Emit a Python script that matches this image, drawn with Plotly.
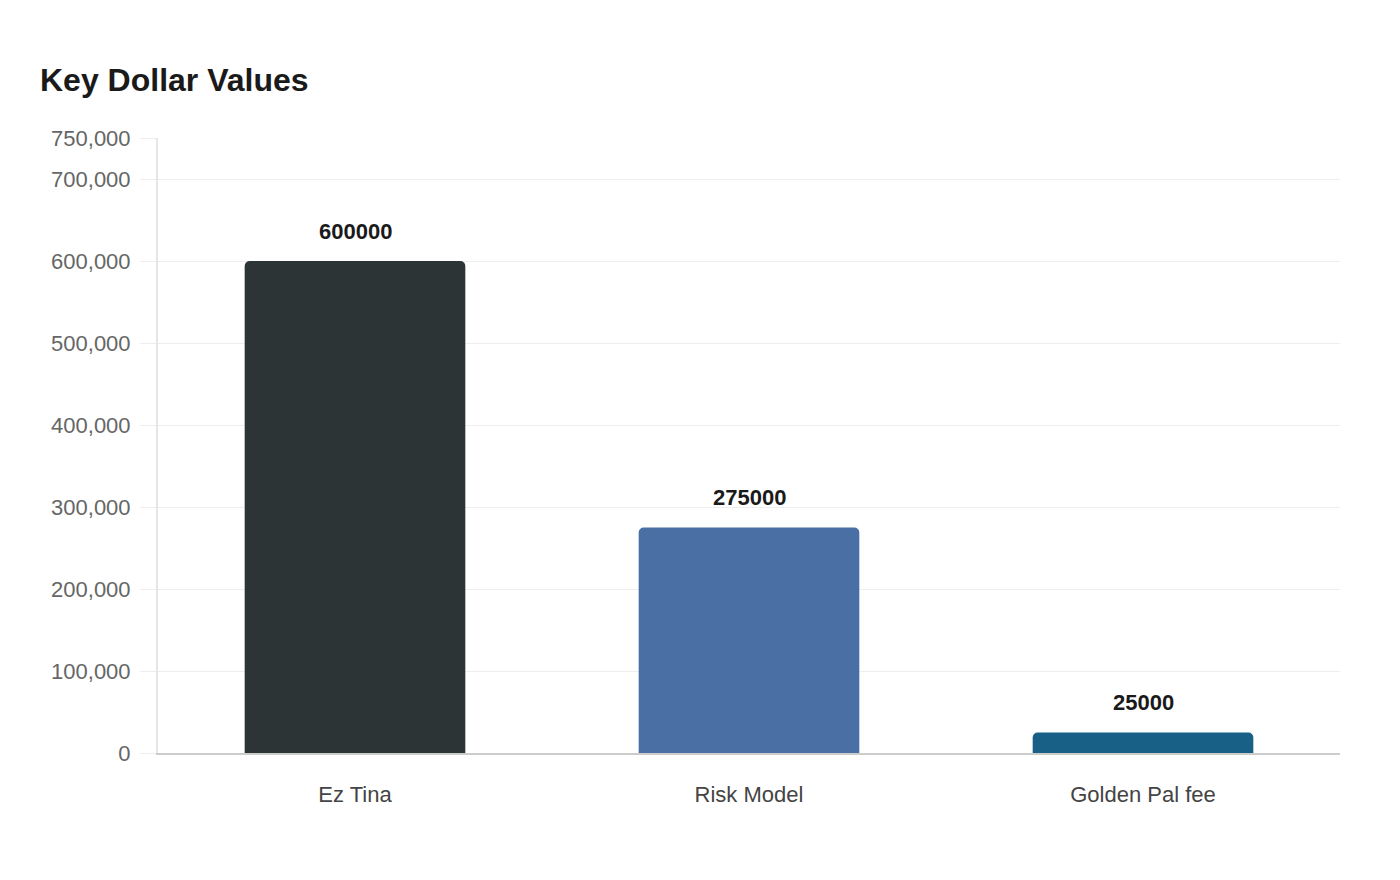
import plotly.graph_objects as go

categories = ["Ez Tina", "Risk Model", "Golden Pal fee"]
values = [600000, 275000, 25000]
colors = ["#2d3436", "#4a6fa5", "#186085"]
tick_vals = [0, 100000, 200000, 300000, 400000, 500000, 600000, 700000, 750000]
y_max = 750000

FONT = "Liberation Sans, Arial, sans-serif"

fig = go.Figure()
fig.add_trace(go.Bar(
    x=categories, y=values,
    marker=dict(color=colors, line=dict(width=0)),
    width=0.56,
    hoverinfo="skip",
))

for c, v in zip(categories, values):
    fig.add_annotation(
        x=c, y=v, text=f"<b>{v}</b>", showarrow=False,
        yanchor="middle", yshift=30,
        font=dict(family=FONT, size=22, color="#1a1a1a"),
    )

fig.update_layout(
    width=1400, height=880,
    paper_bgcolor="white", plot_bgcolor="white",
    margin=dict(l=150, r=68, t=130, b=135),
    barcornerradius=5,
    showlegend=False,
    title=dict(
        text="<b>Key Dollar Values</b>",
        x=32 / 1400, xanchor="left", xref="container",
        y=1 - 72 / 880, yanchor="middle", yref="container",
        font=dict(family=FONT, size=32, color="#1a1a1a"),
    ),
    font=dict(family=FONT),
)

fig.update_yaxes(
    range=[0, y_max], tickvals=tick_vals, tickformat=",",
    showgrid=True, gridcolor="#eeeeee", gridwidth=1,
    zeroline=False,
    showline=True, linecolor="#e6e6e6", linewidth=2,
    ticks="outside", ticklen=16, tickcolor="#eeeeee", tickwidth=1,
    ticklabelstandoff=5,
    tickfont=dict(family=FONT, size=22, color="#666666"),
)
fig.update_xaxes(
    showgrid=False, zeroline=False,
    showline=True, linecolor="#cccccc", linewidth=2,
    ticks="", ticklabelstandoff=21,
    tickfont=dict(family=FONT, size=22, color="#444444"),
)

fig.write_html("out.html")
